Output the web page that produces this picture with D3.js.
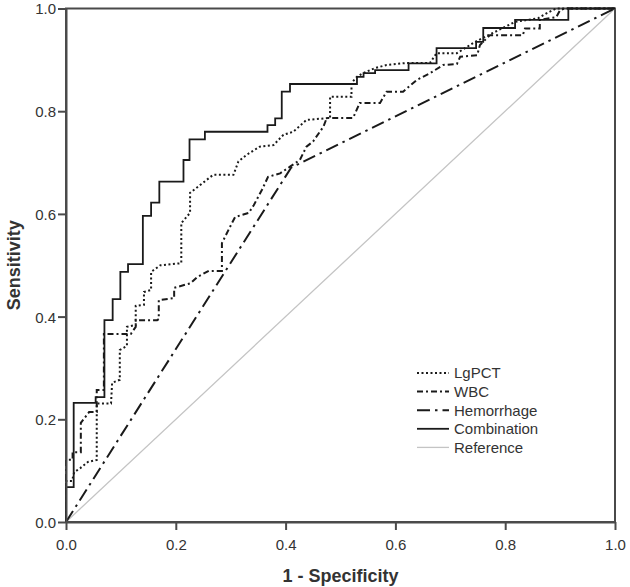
<!DOCTYPE html>
<html><head><meta charset="utf-8">
<script src="https://cdn.jsdelivr.net/npm/d3@7"></script>
<style>
html,body{margin:0;padding:0;background:#fff;}
svg{display:block;font-family:"Liberation Sans",Arial,sans-serif;}
</style></head>
<body><svg id="c" width="630" height="587"></svg>
<script>
const tickValues = [0, 0.2, 0.4, 0.6, 0.8, 1.0];
const xTitle = "1 - Specificity";
const yTitle = "Sensitivity";
const seriesNames = ["LgPCT", "WBC", "Hemorrhage", "Combination", "Reference"];

const lgpct = [[0,0],[0,0.080],[0.011,0.080],[0.015,0.097],[0.026,0.105],[0.040,0.117],[0.056,0.121],[0.056,0.231],[0.082,0.231],[0.084,0.271],[0.098,0.277],[0.098,0.335],[0.111,0.343],[0.111,0.380],[0.127,0.384],[0.127,0.421],[0.142,0.423],[0.142,0.448],[0.155,0.452],[0.155,0.487],[0.172,0.500],[0.210,0.504],[0.210,0.582],[0.226,0.602],[0.226,0.641],[0.244,0.656],[0.268,0.676],[0.305,0.676],[0.314,0.702],[0.329,0.715],[0.353,0.731],[0.378,0.734],[0.396,0.754],[0.414,0.760],[0.438,0.783],[0.481,0.787],[0.481,0.828],[0.520,0.828],[0.520,0.855],[0.530,0.867],[0.541,0.874],[0.563,0.884],[0.584,0.890],[0.621,0.894],[0.663,0.894],[0.675,0.913],[0.712,0.913],[0.745,0.935],[0.760,0.943],[0.818,0.974],[0.860,0.981],[0.876,0.991],[0.893,1],[1,1]];

const wbc = [[0,0],[0,0.121],[0.012,0.121],[0.012,0.136],[0.027,0.136],[0.027,0.193],[0.042,0.214],[0.056,0.214],[0.056,0.257],[0.069,0.257],[0.069,0.366],[0.118,0.366],[0.127,0.380],[0.127,0.393],[0.166,0.393],[0.169,0.395],[0.169,0.432],[0.197,0.436],[0.197,0.456],[0.227,0.465],[0.239,0.477],[0.260,0.489],[0.284,0.489],[0.284,0.543],[0.296,0.569],[0.308,0.594],[0.333,0.602],[0.342,0.617],[0.357,0.647],[0.368,0.672],[0.390,0.679],[0.408,0.692],[0.426,0.705],[0.438,0.731],[0.450,0.741],[0.469,0.770],[0.475,0.787],[0.523,0.787],[0.535,0.816],[0.572,0.816],[0.584,0.838],[0.614,0.838],[0.639,0.861],[0.663,0.874],[0.687,0.890],[0.712,0.892],[0.718,0.906],[0.749,0.909],[0.754,0.929],[0.772,0.948],[0.832,0.948],[0.836,0.961],[0.863,0.961],[0.863,0.978],[0.893,0.983],[0.900,0.997],[0.909,1],[1,1]];

const hemorrhage = [[0,0],[0.41,0.69],[1,1]];

const combination = [[0,0],[0,0.068],[0.014,0.068],[0.014,0.232],[0.054,0.232],[0.054,0.243],[0.070,0.243],[0.070,0.393],[0.085,0.393],[0.085,0.434],[0.099,0.434],[0.099,0.487],[0.113,0.487],[0.113,0.502],[0.140,0.502],[0.140,0.596],[0.155,0.596],[0.155,0.622],[0.170,0.622],[0.170,0.663],[0.214,0.663],[0.214,0.705],[0.225,0.705],[0.225,0.745],[0.253,0.745],[0.253,0.760],[0.367,0.760],[0.367,0.773],[0.381,0.773],[0.381,0.786],[0.393,0.786],[0.393,0.838],[0.408,0.838],[0.408,0.853],[0.530,0.853],[0.530,0.867],[0.542,0.867],[0.542,0.874],[0.563,0.874],[0.563,0.880],[0.624,0.880],[0.624,0.893],[0.675,0.893],[0.675,0.923],[0.747,0.923],[0.747,0.935],[0.760,0.935],[0.760,0.962],[0.818,0.962],[0.818,0.978],[0.915,0.978],[0.915,1],[1,1]];

const reference = [[0,0],[1,1]];

const svg = d3.select("#c");
const L = 66, R = 615, T = 8.5, B = 522;
const x = d3.scaleLinear().domain([0,1]).range([L,R]);
const y = d3.scaleLinear().domain([0,1]).range([B,T]);
const fmt = d3.format(".1f");
const axisColor = "#4a4a4a";
const textColor = "#333";

const styles = [
  {data: lgpct, dash: "2,2.5", color: "#1a1a1a", w: 2},
  {data: wbc, dash: "6,3,2,3", color: "#1a1a1a", w: 2},
  {data: hemorrhage, dash: "13,5,2.5,5", color: "#1a1a1a", w: 2},
  {data: combination, dash: null, color: "#1a1a1a", w: 1.8},
  {data: reference, dash: null, color: "#c4c4c4", w: 1.3}
];

const line = d3.line().x(d => x(d[0])).y(d => y(d[1]));

svg.append("rect").attr("x", L).attr("y", T).attr("width", R-L).attr("height", B-T)
  .attr("fill", "none").attr("stroke", axisColor).attr("stroke-width", 2);

[4,2,1,0,3].forEach(i => {
  const s = styles[i];
  svg.append("path").attr("d", line(s.data)).attr("fill", "none")
    .attr("stroke", s.color).attr("stroke-width", s.w)
    .attr("stroke-dasharray", s.dash);
});

const xa = svg.append("g").attr("transform", `translate(0,${B})`)
  .call(d3.axisBottom(x).tickValues(tickValues).tickFormat(fmt).tickSize(8).tickSizeOuter(0));
const ya = svg.append("g").attr("transform", `translate(${L},0)`)
  .call(d3.axisLeft(y).tickValues(tickValues).tickFormat(fmt).tickSize(8).tickSizeOuter(0));
[xa, ya].forEach(g => {
  g.select(".domain").attr("stroke", axisColor).attr("stroke-width", 2);
  g.selectAll(".tick line").attr("stroke", axisColor).attr("stroke-width", 2);
  g.selectAll(".tick text").attr("fill", textColor).attr("font-size", 15)
    .attr("font-family", "'Liberation Sans', Arial, sans-serif");
});
xa.selectAll(".tick text").attr("dy", "1.1em");
ya.selectAll(".tick text").attr("x", -10).attr("dy", "0.36em");

svg.append("text").attr("x", (L+R)/2).attr("y", 582).attr("text-anchor", "middle")
  .attr("font-size", 18).attr("font-weight", "bold").attr("fill", textColor).text(xTitle);
svg.append("text").attr("transform", `translate(20,${(T+B)/2}) rotate(-90)`).attr("text-anchor", "middle")
  .attr("font-size", 18).attr("font-weight", "bold").attr("fill", textColor).text(yTitle);

const lg = svg.append("g");
seriesNames.forEach((n, i) => {
  const s = styles[i];
  const yy = 373 + i * 18.6;
  lg.append("line").attr("x1", 417).attr("x2", 449).attr("y1", yy).attr("y2", yy)
    .attr("stroke", s.color).attr("stroke-width", s.w).attr("stroke-dasharray", s.dash);
  lg.append("text").attr("x", 454).attr("y", yy).attr("dy", "0.36em")
    .attr("font-size", 15).attr("fill", textColor).text(n);
});
</script></body></html>
